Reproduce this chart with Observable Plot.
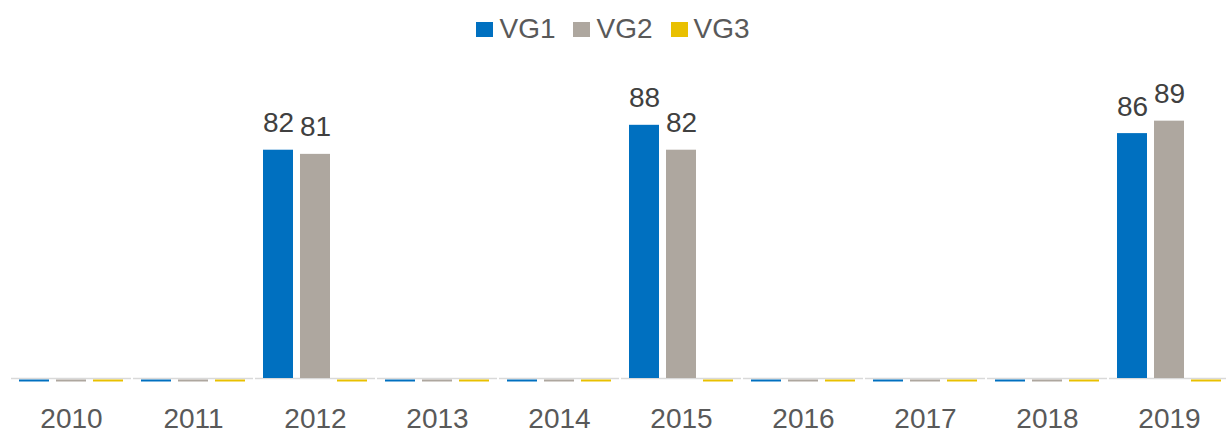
<!DOCTYPE html>
<html>
<head>
<meta charset="utf-8">
<script src="https://cdn.jsdelivr.net/npm/d3@7"></script>
<script src="https://cdn.jsdelivr.net/npm/@observablehq/plot@0.6"></script>
<style>
  html, body { margin: 0; padding: 0; background: #fff; overflow: hidden; }
  #wrap { position: relative; width: 1226px; height: 432px; font-family: "Liberation Sans", Arial, sans-serif; }
  #legend { position: absolute; top: 12px; left: 0; width: 1226px; display: flex; justify-content: center; align-items: center; font-size: 28px; color: #595959; line-height: 34px; }
  .item { display: flex; align-items: center; margin: 0 9px; }
  .sw { width: 17px; height: 15px; margin-right: 6px; }
  #chart { position: absolute; top: 0; left: 0; }
</style>
</head>
<body>
<div id="wrap">
  <div id="chart"></div>
  <div id="legend"></div>
</div>
<script>
const years = ["2010","2011","2012","2013","2014","2015","2016","2017","2018","2019"];
const seriesNames = ["VG1","VG2","VG3"];
const vg1 = [0,0,82,0,0,88,0,0,0,86];
const vg2 = [0,0,81,0,0,82,0,0,0,89];
const vg3 = [0,0,0,0,0,0,0,0,0,0];
const colors = ["#0070C0","#AEA79F","#E9C000"];
const axisMin = 27;
const axisMax = 100;

const seriesValues = [vg1, vg2, vg3];
const rows = [];
years.forEach((y, i) => {
  seriesNames.forEach((s, j) => rows.push({year: y, series: s, value: seriesValues[j][i]}));
});
const nonZero = rows.filter(d => d.value > 0);
const zeros = rows.filter(d => d.value === 0);

const legend = document.getElementById("legend");
seriesNames.forEach((s, j) => {
  const it = document.createElement("div");
  it.className = "item";
  it.innerHTML = `<span class="sw" style="background:${colors[j]}"></span><span>${s}</span>`;
  legend.appendChild(it);
});

const chart = Plot.plot({
  width: 1226,
  height: 432,
  marginTop: 75,
  marginBottom: 54,
  marginLeft: 10,
  marginRight: -5,
  style: {fontFamily: "Liberation Sans, Arial, sans-serif", background: "transparent", overflow: "visible"},
  fx: {domain: years, paddingInner: 0.016, paddingOuter: 0.008, label: null},
  x: {domain: seriesNames, paddingInner: 0.2, paddingOuter: 0.2, axis: null},
  y: {domain: [axisMin, axisMax], axis: null},
  color: {domain: seriesNames, range: colors},
  marks: [
    Plot.ruleY([axisMin], {stroke: "#d9d9d9", strokeWidth: 1.5}),
    Plot.barY(nonZero, {fx: "year", x: "series", y1: axisMin, y2: "value", fill: "series"}),
    Plot.tickY(zeros, {fx: "year", x: "series", y: () => axisMin, stroke: "series", strokeWidth: 2, dy: 2}),
    Plot.text(nonZero, {fx: "year", x: "series", y: "value", text: d => String(d.value), fill: "#404040", fontSize: 28, lineAnchor: "bottom", dy: -18}),
    Plot.axisFx({anchor: "bottom", tickSize: 0, tickPadding: 30, fontSize: 28, fill: "#595959", label: null})
  ]
});
document.getElementById("chart").appendChild(chart);
</script>
</body>
</html>
